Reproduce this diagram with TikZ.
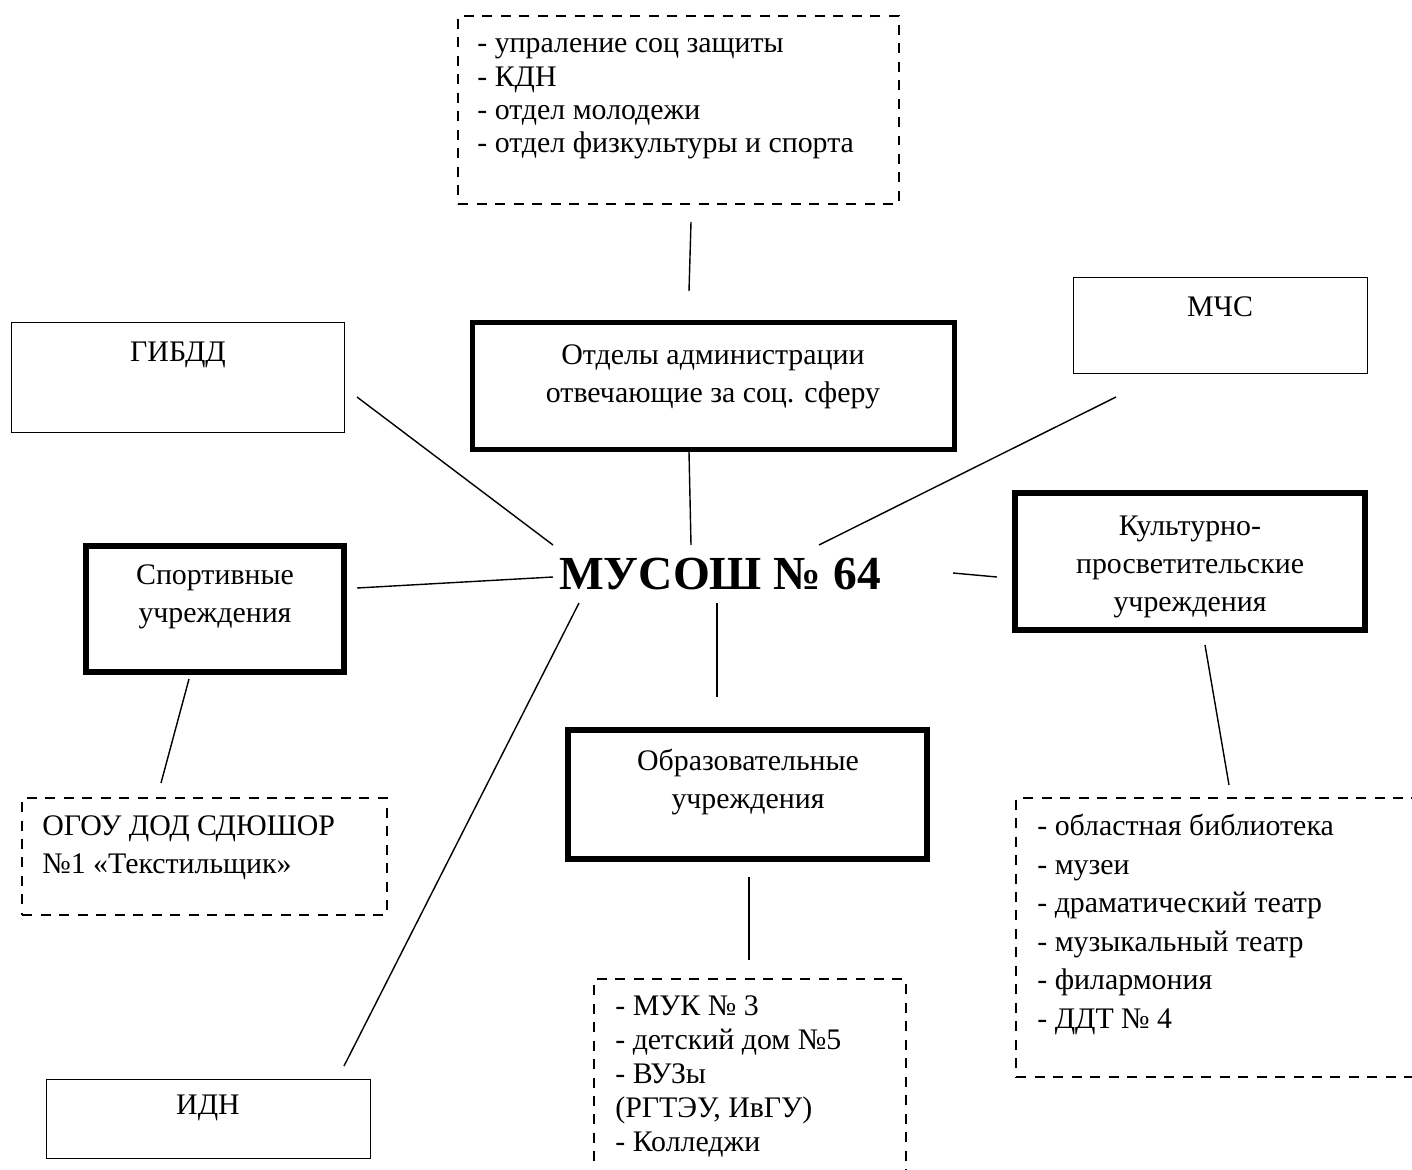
\documentclass[tikz,border=0pt]{standalone}
\usepackage{fontspec}
\setmainfont{Liberation Serif}
\usetikzlibrary{positioning}

\begin{document}
\begin{tikzpicture}[x=0.02cm, y=-0.02cm,
    thinbox/.style={draw, line width=0.8pt, inner sep=0},
    thickbox/.style={draw, line width=3pt, inner sep=0},
    dashbox/.style={draw, line width=1.4pt, dash pattern=on 0.2cm off 0.17cm, inner sep=0},
    txt/.style={font=\fontsize{17}{21.6}\selectfont, align=center, inner sep=0, anchor=base},
    lst/.style={font=\fontsize{17}{#1}\selectfont, align=left, inner sep=0, anchor=base west},
    lst/.default=19,
    link/.style={line width=0.8pt}]
    \useasboundingbox (0,0) rectangle (1412,1169);

    % boxes
    \node[dashbox, minimum width=8.82cm, minimum height=3.76cm] (adm_l) at (678.5,110) {};
    \node[thickbox, minimum width=9.64cm, minimum height=2.54cm] (adm) at (713.5,386) {};
    \node[thinbox, minimum width=6.66cm, minimum height=2.2cm] (gibdd) at (178,377.5) {};
    \node[thinbox, minimum width=5.88cm, minimum height=1.92cm] (mchs) at (1220.5,325.5) {};
    \node[thickbox, minimum width=5.16cm, minimum height=2.52cm] (sport) at (215,609) {};
    \node[thickbox, minimum width=7cm, minimum height=2.74cm] (cult) at (1190,561.5) {};
    \node[thickbox, minimum width=7.18cm, minimum height=2.58cm] (edu) at (747.5,794.5) {};
    \node[dashbox, minimum width=7.3cm, minimum height=2.34cm] (sport_l) at (204.5,856.5) {};
    \node[thinbox, minimum width=6.48cm, minimum height=1.58cm] (idn) at (208.5,1119) {};
    \node[dashbox, minimum width=6.24cm, minimum height=4.42cm] (edu_l) at (750,1089.5) {};
    \node[dashbox, minimum width=8.48cm, minimum height=5.58cm] (cult_l) at (1228,937.5) {};

    % texts (placed at the baseline of their last line)
    \node[lst] (adm_l_t) at (477,153) {- упраление соц защиты\\- КДН\\- отдел молодежи\\- отдел физкультуры и спорта};
    \node[txt] (adm_t) at (713,402) {Отделы администрации\\отвечающие за соц. сферу};
    \node[txt] (gibdd_t) at (178,361) {ГИБДД};
    \node[txt] (mchs_t) at (1220,316) {МЧС};
    \node[txt] (sport_t) at (215,622) {Спортивные\\учреждения};
    \node[txt] (cult_t) at (1190,611) {Культурно-\\просветительские\\учреждения};
    \node[txt] (edu_t) at (748,808) {Образовательные\\учреждения};
    \node[lst=21.6] (sport_l_t) at (42,873) {ОГОУ ДОД СДЮШОР\\№1 «Текстильщик»};
    \node[txt] (idn_t) at (208,1114) {ИДН};
    \node[lst=19.3] (edu_l_t) at (615,1151) {- МУК № 3\\- детский дом №5\\- ВУЗы\\(РГТЭУ, ИвГУ)\\- Колледжи};
    \node[lst=21.9] (cult_l_t) at (1037,1028) {- областная библиотека\\- музеи\\- драматический театр\\- музыкальный театр\\- филармония\\- ДДТ № 4};

    \node[font=\bfseries\fontsize{27}{30}\selectfont, inner sep=0, anchor=base] (school) at (720,589) {МУСОШ № 64};

    % line ends
    \coordinate (adm_l_s) at (691,222);
    \coordinate (adm_n) at (689,291);
    \coordinate (adm_s) at (689,452);
    \coordinate (school_n) at (691,545);
    \coordinate (gibdd_e) at (357,397);
    \coordinate (school_nw) at (553,545);
    \coordinate (mchs_s) at (1116,397);
    \coordinate (school_ne) at (819,545);
    \coordinate (sport_e) at (357,588);
    \coordinate (school_w) at (553,577);
    \coordinate (school_e) at (953,573);
    \coordinate (cult_w) at (997,577);
    \coordinate (cult_s) at (1205,645);
    \coordinate (cult_l_n) at (1229,785);
    \coordinate (sport_s) at (189,679);
    \coordinate (sport_l_n) at (161,783);
    \coordinate (school_sw) at (579,603);
    \coordinate (idn_n) at (344,1066);
    \coordinate (school_s) at (717,603);
    \coordinate (edu_n) at (717,697);
    \coordinate (edu_s) at (749,877);
    \coordinate (edu_l_n) at (749,960);

    \draw[link] (adm_l_s) -- (adm_n);
    \draw[link] (adm_s) -- (school_n);
    \draw[link] (gibdd_e) -- (school_nw);
    \draw[link] (mchs_s) -- (school_ne);
    \draw[link] (sport_e) -- (school_w);
    \draw[link] (school_e) -- (cult_w);
    \draw[link] (cult_s) -- (cult_l_n);
    \draw[link] (sport_s) -- (sport_l_n);
    \draw[link] (school_sw) -- (idn_n);
    \draw[link] (school_s) -- (edu_n);
    \draw[link] (edu_s) -- (edu_l_n);
\end{tikzpicture}
\end{document}
